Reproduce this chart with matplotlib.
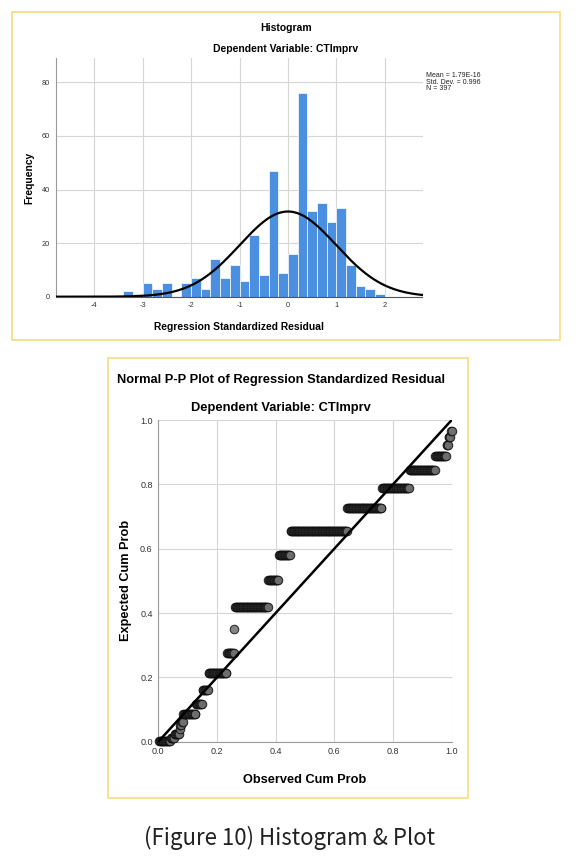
import numpy as np
import matplotlib
matplotlib.use('Agg')
import matplotlib.pyplot as plt
from matplotlib.patches import Rectangle

# histogram of standardized residuals (bin width 0.2)
bin_edges = np.round(np.arange(-3.4, 2.01, 0.2), 2)
bin_counts = [2, 1, 5, 3, 5, 0, 5, 7, 3, 14, 7, 12, 6, 23, 8, 47, 9, 16, 76, 32, 35, 28, 33, 12, 4, 3, 1]
res_mean = 1.79e-16
res_std = 0.996
n_obs = 397

# P-P plot: tied groups of residuals (expected cum prob level, number of cases)
pp_levels = [0.003, 0.013, 0.024, 0.039, 0.052, 0.060, 0.086, 0.118, 0.160, 0.214, 0.277, 0.351,
             0.420, 0.503, 0.580, 0.655, 0.725, 0.790, 0.845, 0.887, 0.921, 0.946, 0.966]
pp_counts = [16, 5, 7, 1, 2, 2, 17, 9, 8, 25, 10, 1,
             45, 14, 16, 77, 47, 37, 35, 15, 3, 3, 2]

W, H = 580, 857
plt.rcParams['font.family'] = ['Liberation Sans', 'DejaVu Sans']
plt.rcParams['axes.unicode_minus'] = False
fig = plt.figure(figsize=(W / 100, H / 100), dpi=100)
fig.patch.set_facecolor('white')

def fx(px):
    return px / W

def fy(py):
    return 1 - py / H

border = '#f6e08e'
fig.patches.append(Rectangle((fx(12), fy(340)), 548 / W, 328 / H, transform=fig.transFigure,
                             fill=False, edgecolor=border, lw=1.3))
fig.patches.append(Rectangle((fx(108), fy(798)), 360 / W, 440 / H, transform=fig.transFigure,
                             fill=False, edgecolor=border, lw=1.3))

grid_c = '#d6d6d6'
tick_c = '#333333'

# ---- histogram ----
ax = fig.add_axes([fx(55.6), fy(296.7), (422.5 - 55.6) / W, (296.7 - 58.3) / H])
ax.bar(bin_edges[:-1], bin_counts, width=0.2, align='edge', color='#4a8fe0',
       edgecolor='white', linewidth=0.5, zorder=2)
xs = np.linspace(-4.8, 2.78, 400)
pdf = n_obs * 0.2 * np.exp(-0.5 * ((xs - res_mean) / res_std) ** 2) / (res_std * np.sqrt(2 * np.pi))
ax.plot(xs, pdf, color='black', lw=1.6, zorder=3)
ax.set_xlim(-4.8, 2.78)
ax.set_ylim(0, 89)
ax.set_xticks([-4, -3, -2, -1, 0, 1, 2])
ax.set_yticks([0, 20, 40, 60, 80])
ax.grid(True, color=grid_c, lw=0.8, zorder=0)
ax.set_axisbelow(True)
for s in ['top', 'right']:
    ax.spines[s].set_visible(False)
ax.spines['left'].set_color('#9a9a9a')
ax.spines['bottom'].set_color('#555555')
ax.tick_params(length=0, labelsize=5.3, colors=tick_c, pad=4)
ax.set_xlabel('Regression Standardized Residual', fontsize=7.4, fontweight='bold', labelpad=9)
ax.set_ylabel('Frequency', fontsize=7.4, fontweight='bold', labelpad=5)
fig.text(fx(286), fy(28), 'Histogram', ha='center', va='center', fontsize=7.5, fontweight='bold')
fig.text(fx(286), fy(49), 'Dependent Variable: CTImprv', ha='center', va='center',
         fontsize=7.5, fontweight='bold')
fig.text(fx(426.5), fy(72), 'Mean = %.2E\nStd. Dev. = %.3f\nN = %d' % (res_mean, res_std, n_obs),
         ha='left', va='top', fontsize=5.0, linespacing=0.95, color='#222222')

# ---- P-P plot ----
ax2 = fig.add_axes([fx(158.3), fy(741.7), (451.7 - 158.3) / W, (741.7 - 420) / H])
exp_p = np.repeat(pp_levels, pp_counts)
obs_p = np.arange(1, len(exp_p) + 1) / len(exp_p)
ax2.plot([0, 1], [0, 1], color='black', lw=1.8, zorder=4)
ax2.scatter(obs_p, exp_p, s=38, facecolor='#6e6e6e', edgecolor='#0a0a0a', linewidths=0.7,
            alpha=0.85, zorder=3, clip_on=False)
ax2.set_xlim(0, 1)
ax2.set_ylim(0, 1)
ticks = [0.0, 0.2, 0.4, 0.6, 0.8, 1.0]
ax2.set_xticks(ticks)
ax2.set_yticks(ticks)
ax2.set_xticklabels(['%.1f' % t for t in ticks])
ax2.set_yticklabels(['%.1f' % t for t in ticks])
ax2.grid(True, color=grid_c, lw=0.8, zorder=0)
ax2.set_axisbelow(True)
for s in ['top', 'right']:
    ax2.spines[s].set_visible(False)
ax2.spines['left'].set_color('#9a9a9a')
ax2.spines['bottom'].set_color('#9a9a9a')
ax2.tick_params(length=0, labelsize=6.5, colors=tick_c, pad=4)
ax2.set_xlabel('Observed Cum Prob', fontsize=9.2, fontweight='bold', labelpad=13)
ax2.set_ylabel('Expected Cum Prob', fontsize=9.2, fontweight='bold', labelpad=6)
fig.text(fx(281), fy(380), 'Normal P-P Plot of Regression Standardized Residual', ha='center',
         va='center', fontsize=9.3, fontweight='bold')
fig.text(fx(281), fy(408), 'Dependent Variable: CTImprv', ha='center', va='center',
         fontsize=9.3, fontweight='bold')

fig.text(fx(290), fy(838), '(Figure 10) Histogram & Plot', ha='center', va='center',
         fontsize=16, color='#222222', family=['Noto Sans CJK KR', 'DejaVu Sans'])

fig.savefig('out.png', dpi=100)
